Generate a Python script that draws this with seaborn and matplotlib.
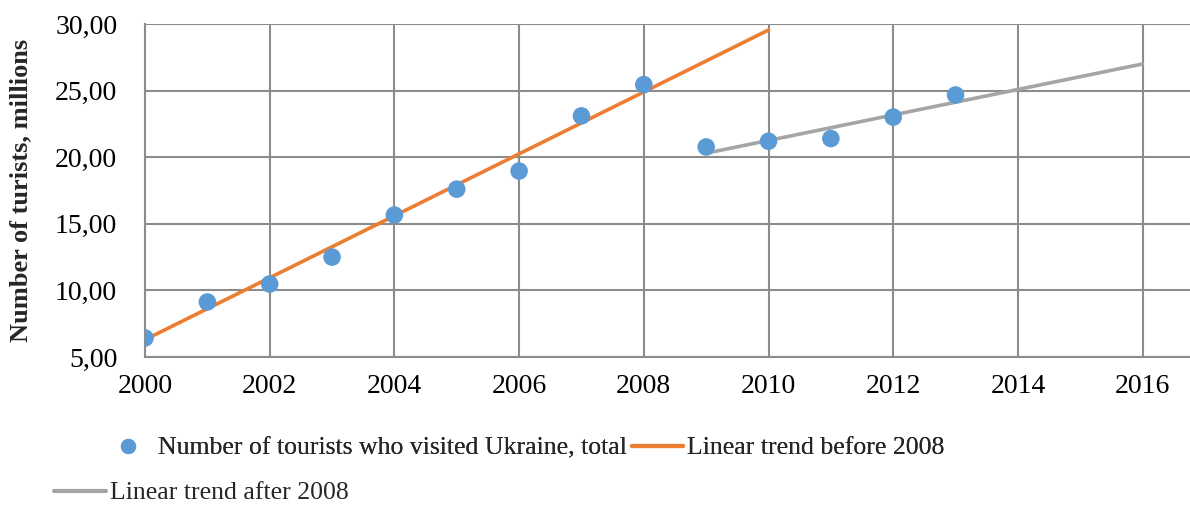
import numpy as np
import pandas as pd
import matplotlib
matplotlib.use('Agg')
import matplotlib.pyplot as plt
from matplotlib.ticker import FuncFormatter
from matplotlib.lines import Line2D
import seaborn as sns

years = [2000, 2001, 2002, 2003, 2004, 2005, 2006, 2007, 2008, 2009, 2010, 2011, 2012, 2013]
tourists = [6.43, 9.13, 10.48, 12.50, 15.66, 17.60, 18.96, 23.10, 25.45, 20.77, 21.20, 21.40, 23.01, 24.67]

trend_before_years = [2000, 2010]
trend_before_values = [6.30, 29.55]

trend_after_years = [2009, 2016]
trend_after_values = [20.30, 27.00]

x_ticks = [2000, 2002, 2004, 2006, 2008, 2010, 2012, 2014, 2016]
y_ticks = [5, 10, 15, 20, 25, 30]

blue = '#5B9BD5'
orange = '#ED7D31'
grey = '#A5A5A5'
grid_col = '#8C8C8C'

sns.set_style('white')
plt.rcParams['font.family'] = ['Liberation Serif', 'DejaVu Serif']

df = pd.DataFrame({'year': years, 'value': tourists})
df_before = pd.DataFrame({'year': trend_before_years, 'value': trend_before_values})
df_after = pd.DataFrame({'year': trend_after_years, 'value': trend_after_values})

fig = plt.figure(figsize=(11.9, 5.05), dpi=100)
ax = fig.add_axes([145 / 1190, 1 - 357 / 505, 1 - 145 / 1190, (357 - 24) / 505])

sns.lineplot(data=df_before, x='year', y='value', ax=ax, color=orange, linewidth=2.6, zorder=3)
sns.lineplot(data=df_after, x='year', y='value', ax=ax, color=grey, linewidth=2.6, zorder=3)
sns.scatterplot(data=df, x='year', y='value', ax=ax, color=blue, s=160, edgecolor='none', zorder=4)

ax.set_xlim(2000, 2016.76)
ax.set_ylim(5, 30)
ax.set_xticks(x_ticks)
ax.set_yticks(y_ticks)
ax.yaxis.set_major_formatter(FuncFormatter(lambda v, p: f'{v:.2f}'.replace('.', ',')))
ax.grid(True, color=grid_col, linewidth=1.5)
ax.set_axisbelow(True)
for side in ['top', 'right']:
    ax.spines[side].set_visible(False)
for side in ['left', 'bottom']:
    ax.spines[side].set_color(grid_col)
    ax.spines[side].set_linewidth(1.5)
ax.tick_params(axis='both', length=0, labelsize=20, colors='black')
ax.tick_params(axis='y', pad=20)
ax.tick_params(axis='x', pad=12)
ax.set_xlabel('')
ax.set_ylabel('Number of turists, millions', fontsize=19, fontweight='bold')
ax.yaxis.set_label_coords(-0.108, 0.5)

h1 = Line2D([], [], marker='o', color='none', markerfacecolor=blue, markeredgecolor='none', markersize=11)
h2 = Line2D([], [], color=orange, linewidth=3)
h3 = Line2D([], [], color=grey, linewidth=3)

leg1 = fig.legend([h1, h2], ['Number of tourists who visited Ukraine, total', 'Linear trend before 2008'],
                  loc='center left', bbox_to_anchor=(92 / 1190, 1 - 448 / 505), ncol=2, frameon=False,
                  fontsize=18.5, handlelength=2.0, handletextpad=0.15, columnspacing=0.2, borderaxespad=0)
fig.legend([h3], ['Linear trend after 2008'],
           loc='center left', bbox_to_anchor=(44 / 1190, 1 - 493 / 505), frameon=False,
           fontsize=18.5, handlelength=2.0, handletextpad=0.15, borderaxespad=0)
fig.add_artist(leg1)

fig.savefig('out.png', dpi=100)
